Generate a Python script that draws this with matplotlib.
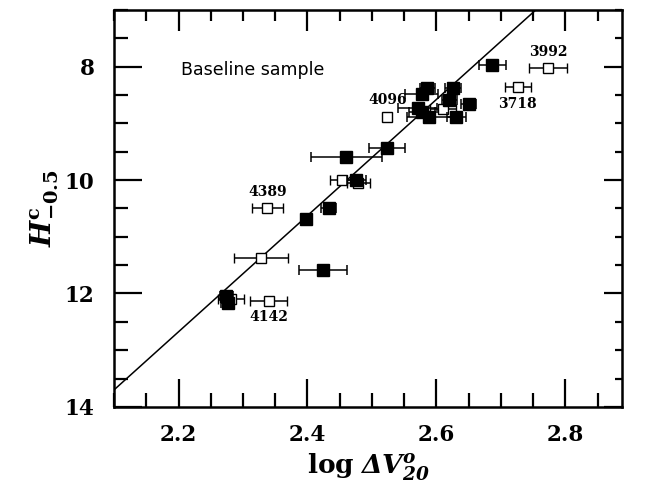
import numpy as np
import matplotlib.pyplot as plt
from matplotlib.ticker import MultipleLocator, NullFormatter

plt.rcParams['mathtext.fontset'] = 'dejavuserif'

# filled squares
x_fill = [2.687, 2.586, 2.577, 2.626, 2.620, 2.650, 2.571, 2.578, 2.589, 2.631,
          2.523, 2.460, 2.476, 2.433, 2.397, 2.424, 2.274, 2.276]
y_fill = [7.97, 8.38, 8.48, 8.38, 8.59, 8.66, 8.73, 8.80, 8.89, 8.89,
          9.43, 9.59, 10.00, 10.50, 10.69, 11.59, 12.04, 12.17]
xerr_fill = [0.021, 0.012, 0.026, 0.012, 0.012, 0.012, 0.030, 0.020, 0.035, 0.015,
             0.028, 0.055, 0.015, 0.012, 0.0, 0.037, 0.010, 0.010]

# open squares
x_open = [2.773, 2.726, 2.524, 2.453, 2.479, 2.338, 2.328, 2.340, 2.282, 2.610]
y_open = [8.03, 8.36, 8.89, 10.00, 10.06, 10.50, 11.38, 12.13, 12.10, 8.75]
xerr_open = [0.029, 0.020, 0.004, 0.018, 0.018, 0.024, 0.042, 0.029, 0.020, 0.020]

# labelled galaxies: name, x, y, offset direction (+1 above, -1 below)
lab_names = ['3992', '3718', '4096', '4389', '4142']
lab_x = [2.773, 2.726, 2.524, 2.338, 2.340]
lab_y = [8.03, 8.36, 8.89, 10.50, 12.13]
lab_dir = [1, -1, 1, 1, -1]

# fitted relation  H = a + b * log dV
fit_a = 35.204
fit_b = -10.24

fig = plt.figure(figsize=(6.48, 4.92), dpi=100)
ax = fig.add_axes([0.176, 0.173, 0.784, 0.807])

xl = np.array([2.1, 2.9])
ax.plot(xl, fit_a + fit_b * xl, color='k', lw=1.1, zorder=1)

ax.errorbar(x_fill, y_fill, xerr=xerr_fill, fmt='s', color='k', ms=9,
            mfc='k', mec='k', ecolor='k', elinewidth=1.1, capsize=3.5, capthick=1.1, zorder=3)
ax.errorbar(x_open, y_open, xerr=xerr_open, fmt='s', color='k', ms=6.5,
            mfc='white', mec='k', mew=1.0, ecolor='k', elinewidth=1.1, capsize=3.5,
            capthick=1.1, zorder=2)

for name, lx, ly, d in zip(lab_names, lab_x, lab_y, lab_dir):
    ax.annotate(name, (lx, ly), xytext=(0, 12 * d), textcoords='offset points',
                ha='center', va='center', fontsize=10, fontweight='bold',
                family='DejaVu Serif')

ax.text(0.132, 0.849, 'Baseline sample', transform=ax.transAxes, fontsize=12.5,
        ha='left', va='center', family='DejaVu Sans')

ax.set_xlim(2.1, 2.888)
ax.set_ylim(14, 7)
ax.xaxis.set_major_locator(MultipleLocator(0.2))
ax.xaxis.set_minor_locator(MultipleLocator(0.05))
ax.yaxis.set_major_locator(MultipleLocator(2))
ax.yaxis.set_minor_locator(MultipleLocator(0.5))
ax.tick_params(which='both', direction='in', width=1.6)
ax.tick_params(which='major', length=20)
ax.tick_params(axis='x', which='major', pad=12)
ax.tick_params(axis='y', which='major', pad=14)
ax.tick_params(which='minor', length=10)
for s in ax.spines.values():
    s.set_linewidth(1.8)
for lbl in ax.get_xticklabels() + ax.get_yticklabels():
    lbl.set_family('DejaVu Serif')
    lbl.set_fontweight('bold')
    lbl.set_fontsize(15.5)

# shorter ticks on top and right
top = ax.secondary_xaxis('top')
top.xaxis.set_major_locator(MultipleLocator(0.2))
top.xaxis.set_minor_locator(MultipleLocator(0.05))
top.xaxis.set_major_formatter(NullFormatter())
top.tick_params(which='both', direction='in', width=1.6)
top.tick_params(which='major', length=15)
top.tick_params(which='minor', length=8)
right = ax.secondary_yaxis('right')
right.yaxis.set_major_locator(MultipleLocator(2))
right.yaxis.set_minor_locator(MultipleLocator(0.5))
right.yaxis.set_major_formatter(NullFormatter())
right.tick_params(which='both', direction='in', width=1.6)
right.tick_params(which='major', length=13)
right.tick_params(which='minor', length=5)

ax.set_xlabel(r'$\mathbf{log}\ \mathbfit{\Delta V}_{\mathbfit{20}}^{\mathbfit{o}}$',
              fontsize=19, labelpad=4)
ax.set_ylabel(r'$\mathbfit{H}_{\mathbf{-0.5}}^{\mathbf{c}}$', fontsize=20, labelpad=3)

fig.savefig('out.png', dpi=100)
